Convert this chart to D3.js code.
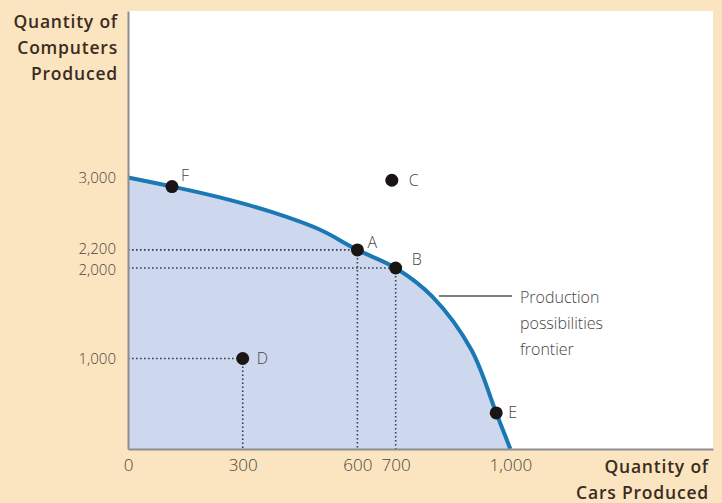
<!DOCTYPE html>
<html>
<head>
<meta charset="utf-8">
<script src="https://cdn.jsdelivr.net/npm/d3@7/dist/d3.min.js"></script>
<style>
  html, body { margin: 0; padding: 0; background: #fbe4c0; }
  svg { display: block; }
</style>
</head>
<body>
<svg id="chart" width="722" height="503"></svg>
<script>
// ---- data ----
const frontierCars      = [0, 115, 240, 371, 501, 600, 700, 796, 898, 963, 1000];
const frontierComputers = [3000, 2900, 2780, 2625, 2425, 2200, 2000, 1683, 1096, 399, 0];

const pointNames     = ["F", "A", "B", "C", "D", "E"];
const pointCars      = [115, 600, 700, 690, 300, 963];
const pointComputers = [2900, 2200, 2000, 2970, 1000, 399];

const xTicks = [0, 300, 600, 700, 1000];
const xTickLabels = ["0", "300", "600", "700", "1,000"];
const yTicks = [1000, 2000, 2200, 3000];
const yTickLabels = ["1,000", "2,000", "2,200", "3,000"];

// guide lines: points whose coordinates are projected to the axes
const guidePoints = ["A", "B", "D"];

const yTitle = ["Quantity of", "Computers", "Produced"];
const xTitle = ["Quantity of", "Cars Produced"];
const frontierLabel = ["Production", "possibilities", "frontier"];

// ---- layout ----
const svg = d3.select("#chart");
const mLeft = 128, mRight = 713, mTop = 11, mBottom = 449;
const x = d3.scaleLinear().domain([0, 1530]).range([mLeft, mRight]);
const y = d3.scaleLinear().domain([0, 4840]).range([mBottom, mTop]);

const tickFont = "'Open Sans', 'Noto Sans', sans-serif";
const textColor = "#4a443f";
const curve = d3.curveCatmullRom.alpha(0.5);

// plot background
svg.append("rect")
  .attr("x", mLeft).attr("y", mTop)
  .attr("width", mRight - mLeft).attr("height", mBottom - mTop)
  .attr("fill", "#ffffff");

const frontier = frontierCars.map((c, i) => ({ x: c, y: frontierComputers[i] }));

// filled area under frontier
svg.append("path")
  .datum(frontier)
  .attr("fill", "#cdd8ee")
  .attr("d", d3.area().x(d => x(d.x)).y0(y(0)).y1(d => y(d.y)).curve(curve));

// guide dotted lines
const points = pointNames.map((n, i) => ({ name: n, x: pointCars[i], y: pointComputers[i] }));
const guides = svg.append("g")
  .attr("stroke", "#3a3a4a").attr("stroke-width", 1.6)
  .attr("stroke-dasharray", "1.6,2.4").attr("fill", "none");
points.filter(p => guidePoints.includes(p.name)).forEach(p => {
  guides.append("line")
    .attr("x1", x(0)).attr("x2", x(p.x))
    .attr("y1", y(p.y)).attr("y2", y(p.y));
  guides.append("line")
    .attr("x1", x(p.x)).attr("x2", x(p.x))
    .attr("y1", y(p.y)).attr("y2", y(0));
});

// frontier line
svg.append("path")
  .datum(frontier)
  .attr("fill", "none")
  .attr("stroke", "#1b78b5")
  .attr("stroke-width", 4)
  .attr("d", d3.line().x(d => x(d.x)).y(d => y(d.y)).curve(curve));

// axes
const xAxis = svg.append("g")
  .attr("transform", `translate(0,${mBottom})`)
  .call(d3.axisBottom(x).tickValues(xTicks).tickSize(0).tickPadding(10)
        .tickFormat((d, i) => xTickLabels[i]));
const yAxis = svg.append("g")
  .attr("transform", `translate(${mLeft},0)`)
  .call(d3.axisLeft(y).tickValues(yTicks).tickSize(0).tickPadding(12)
        .tickFormat((d, i) => yTickLabels[i]));
xAxis.selectAll("text").attr("font-size", 17);
// nudge the two close labels apart slightly, as in the reference
const yNudge = { 2200: -1.2, 2000: 2 };
yAxis.selectAll("text").attr("font-size", 15)
  .attr("y", d => yNudge[d] || 0);
[xAxis, yAxis].forEach(g => {
  g.select(".domain").attr("stroke", "#8e8e8e").attr("stroke-width", 2);
  g.selectAll("text")
    .attr("font-family", tickFont).attr("font-weight", 300)
    .attr("fill", textColor);
});

// points
svg.append("g").selectAll("circle")
  .data(points).join("circle")
  .attr("cx", d => x(d.x)).attr("cy", d => y(d.y))
  .attr("r", 6.5).attr("fill", "#1a1414");

const labelOffsets = { F: [9, -11], A: [10, -8], B: [16, -9], C: [17, 0], D: [14, 0], E: [12, 0] };
svg.append("g").selectAll("text")
  .data(points).join("text")
  .attr("x", d => x(d.x) + labelOffsets[d.name][0])
  .attr("y", d => y(d.y) + labelOffsets[d.name][1])
  .attr("dy", "0.35em")
  .attr("font-family", tickFont).attr("font-size", 16).attr("font-weight", 300)
  .attr("fill", textColor)
  .text(d => d.name);

// frontier label with leader line
svg.append("line")
  .attr("x1", 439).attr("x2", 512).attr("y1", 296).attr("y2", 296)
  .attr("stroke", "#555").attr("stroke-width", 1.5);
svg.append("g").selectAll("text")
  .data(frontierLabel).join("text")
  .attr("x", 520).attr("y", (d, i) => 297 + i * 26)
  .attr("dy", "0.35em")
  .attr("font-family", tickFont).attr("font-size", 16).attr("font-weight", 300)
  .attr("fill", textColor)
  .text(d => d);

// axis titles
svg.append("g").selectAll("text")
  .data(yTitle).join("text")
  .attr("x", 118).attr("y", (d, i) => 22 + i * 26)
  .attr("dy", "0.35em").attr("text-anchor", "end")
  .attr("font-family", tickFont).attr("font-size", 17.5).attr("font-weight", 600)
  .attr("letter-spacing", 0.8)
  .attr("fill", "#3a2c1e")
  .text(d => d);
svg.append("g").selectAll("text")
  .data(xTitle).join("text")
  .attr("x", 709).attr("y", (d, i) => 467 + i * 26)
  .attr("dy", "0.35em").attr("text-anchor", "end")
  .attr("font-family", tickFont).attr("font-size", 17.5).attr("font-weight", 600)
  .attr("letter-spacing", 0.8)
  .attr("fill", "#3a2c1e")
  .text(d => d);
</script>
</body>
</html>
